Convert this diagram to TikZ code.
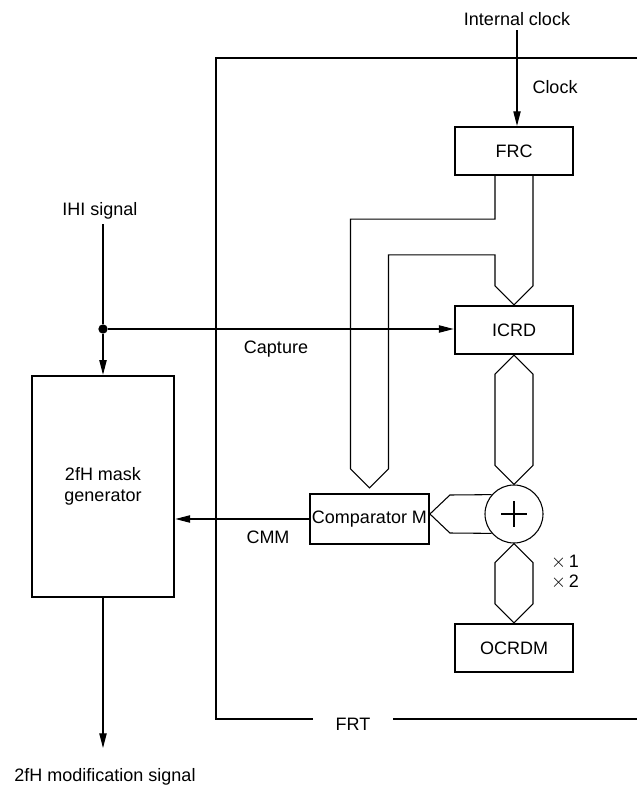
\documentclass[tikz,border=0pt]{standalone}
\usepackage{fontspec}
\setmainfont{Liberation Sans}
\usetikzlibrary{arrows.meta,calc}

\begin{document}
\begin{tikzpicture}[
  x=0.75pt, y=-0.75pt,
  font=\fontsize{13.5}{16}\selectfont,
  blk/.style={draw, line width=1.6pt, minimum width=89pt, minimum height=36pt, align=center},
  bus/.style={line width=0.8pt, line join=miter},
  sig/.style={line width=0.8pt, -{Triangle[length=11pt,width=5.5pt]}},
  frame/.style={line width=0.8pt},
]
\useasboundingbox (0,0) rectangle (637,788);

% Blocks
\node[blk] (frc) at (514,151) {FRC};
\node[blk] (icrd) at (514,330) {ICRD};
\node[blk] (ocrdm) at (514,648) {OCRDM};
\node[blk, inner sep=1pt, minimum height=37.5pt] (cmpm) at (369.5,519) {Comparator M};
\node[blk, minimum width=107pt, minimum height=166pt] (mask) at (103,486.5) {2fH mask\\generator};
\node[draw, circle, line width=0.8pt, minimum size=43.5pt, inner sep=0pt] (sum) at (514,514) {};
\draw[line width=1.2pt] ($(sum)+(-13,0)$) -- ($(sum)+(13,0)$)
                        ($(sum)+(0,-13)$) -- ($(sum)+(0,13)$);

% Buses
\coordinate (ctip) at ($(cmpm.north)+(0,-5)$);
\draw[bus] ($(frc.south)+(-19,0)$) -- ++(0,43) -| ($(ctip)+(-19,-19)$) -- (ctip)
  -- ($(ctip)+(19,-19)$) |- ($(icrd.north)+(-19,-50)$) -- ($(icrd.north)+(-19,-19)$)
  -- (icrd.north) -- ($(icrd.north)+(19,-19)$) -- ($(frc.south)+(19,0)$);
\draw[bus] (icrd.south) -- ++(19,19) -- ($(sum.north)+(19,-19)$) -- (sum.north)
  -- ($(sum.north)+(-19,-19)$) -- ($(icrd.south)+(-19,19)$) -- cycle;
\draw[bus] (sum.south) -- ++(19,19) -- ($(ocrdm.north)+(19,-19)$) -- (ocrdm.north)
  -- ($(ocrdm.north)+(-19,-19)$) -- ($(sum.south)+(-19,19)$) -- cycle;
\coordinate (ctap) at (cmpm.east |- sum.center);
\draw[bus] (sum.139) -- ($(ctap)+(20,-19)$) -- (ctap) -- ($(ctap)+(20,19)$) -- (sum.221);
\node (x1) at (565,562) {$\times$\,1};
\node (x2) at (565,582) {$\times$\,2};

% Signals
\node (intclk) at (517,19) {Internal clock};
\draw[sig] (intclk.south) -- (intclk.south |- frc.north);
\node (clk) at (555,87) {Clock};
\node (ihi) at (100,211) {IHI signal};
\node[circle, fill, inner sep=0pt, minimum size=7pt] (dot) at (103,329) {};
\draw[line width=0.8pt] (ihi.south -| dot) -- (dot);
\draw[sig] (dot) -- (mask.north);
\draw[sig] (dot) -- (dot -| icrd.west);
\node (cap) at (276,349) {Capture};
\draw[sig] (cmpm.west) -- (cmpm.west -| mask.east);
\node (cmm) at (268,537) {CMM};
\coordinate (out) at (103,748);
\draw[sig] (mask.south) -- (out);
\node (modsig) at (105,777) {2fH modification signal};

% FRT frame
\node (frt) at (353,724) {FRT};
\draw[frame] (637,58) -| (216,719) -- (313,719);
\draw[frame] (393,719) -- (637,719);
\end{tikzpicture}
\end{document}
